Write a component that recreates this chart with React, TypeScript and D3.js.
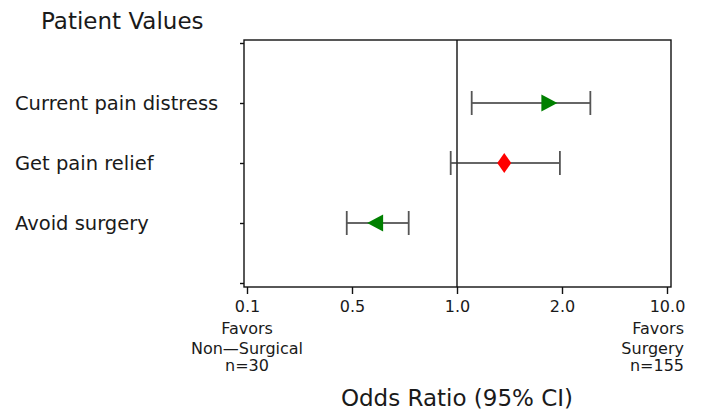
import { useEffect, useRef } from 'react'
import * as d3 from 'd3'

const categories = ['Current pain distress', 'Get pain relief', 'Avoid surgery']
const estimates = [1.88, 1.45, 0.61]
const lowerCI = [1.14, 0.97, 0.48]
const upperCI = [4.16, 1.98, 0.77]
const markerShape = ['right', 'diamond', 'left']
const markerColor = ['#008000', '#ff0000', '#008000']

const xTicks = [0.1, 0.5, 1.0, 2.0, 10.0]
const leftNote = ['Favors', 'Non\u2014Surgical', 'n=30']
const rightNote = ['Favors', 'Surgery', 'n=155']

const width = 701
const height = 413
const font = '"DejaVu Sans", sans-serif'
const ink = '#1a1a1a'

export default function App() {
  const svgRef = useRef<SVGSVGElement | null>(null)

  useEffect(() => {
    const box = { left: 244, right: 671, top: 40, bottom: 287 }
    const tickStart = 247
    const tickEnd = 667

    const svg = d3.select(svgRef.current)
    svg.selectAll('*').remove()
    svg.attr('viewBox', `0 0 ${width} ${height}`)

    // ================= SCALES =================
    // the axis puts its ticks at equal steps, so map each tick value to an even slot
    const slot = (tickEnd - tickStart) / (xTicks.length - 1)
    const x = d3
      .scaleLinear()
      .domain(xTicks)
      .range(xTicks.map((_, i) => tickStart + i * slot))

    const y = d3.scaleLinear().domain([0, 4]).range([43, 283])

    // ================= TITLE =================
    svg
      .append('text')
      .attr('x', 41)
      .attr('y', 29)
      .attr('font-family', font)
      .attr('font-size', 23)
      .attr('fill', ink)
      .text('Patient Values')

    // ================= FRAME =================
    svg
      .append('rect')
      .attr('x', box.left)
      .attr('y', box.top)
      .attr('width', box.right - box.left)
      .attr('height', box.bottom - box.top)
      .attr('fill', 'none')
      .attr('stroke', '#111')
      .attr('stroke-width', 1.4)

    // ================= AXES =================
    const xAxis = svg
      .append('g')
      .attr('transform', `translate(0,${box.bottom})`)
      .call(
        d3
          .axisBottom(x)
          .tickValues(xTicks)
          .tickSize(7)
          .tickPadding(6.5)
          .tickFormat(d3.format('.1f')),
      )
    xAxis.select('.domain').remove()
    xAxis.selectAll('line').attr('stroke', '#111').attr('stroke-width', 1.4)
    xAxis
      .selectAll('text')
      .attr('font-family', font)
      .attr('font-size', 16)
      .attr('fill', ink)

    const yAxis = svg
      .append('g')
      .attr('transform', `translate(${box.left},0)`)
      .call(
        d3
          .axisLeft(y)
          .tickValues([0, 1, 2, 3, 4])
          .tickSize(4)
          .tickFormat(() => ''),
      )
    yAxis.select('.domain').remove()
    yAxis.selectAll('line').attr('stroke', '#111').attr('stroke-width', 1.4)

    svg
      .append('g')
      .selectAll('text')
      .data(categories)
      .join('text')
      .attr('x', 15)
      .attr('y', (_, i) => y(i + 1) + 7)
      .attr('font-family', font)
      .attr('font-size', 19.5)
      .attr('fill', ink)
      .text((d) => d)

    // ================= NOTES =================
    const noteY = [334, 353.5, 371]
    svg
      .append('g')
      .selectAll('text')
      .data(leftNote)
      .join('text')
      .attr('x', x(0.1))
      .attr('y', (_, i) => noteY[i])
      .attr('text-anchor', 'middle')
      .attr('font-family', font)
      .attr('font-size', 16)
      .attr('fill', ink)
      .text((d) => d)

    svg
      .append('g')
      .selectAll('text')
      .data(rightNote)
      .join('text')
      .attr('x', 684)
      .attr('y', (_, i) => noteY[i])
      .attr('text-anchor', 'end')
      .attr('font-family', font)
      .attr('font-size', 16)
      .attr('fill', ink)
      .text((d) => d)

    svg
      .append('text')
      .attr('x', x(1))
      .attr('y', 406)
      .attr('text-anchor', 'middle')
      .attr('font-family', font)
      .attr('font-size', 23)
      .attr('fill', ink)
      .text('Odds Ratio (95% CI)')

    // ================= REFERENCE LINE =================
    svg
      .append('line')
      .attr('x1', x(1))
      .attr('x2', x(1))
      .attr('y1', box.top)
      .attr('y2', box.bottom)
      .attr('stroke', '#111')
      .attr('stroke-width', 1.4)

    // ================= ERROR BARS =================
    const rows = categories.map((c, i) => ({
      name: c,
      est: estimates[i],
      lo: lowerCI[i],
      hi: upperCI[i],
      shape: markerShape[i],
      color: markerColor[i],
      yPos: y(i + 1),
    }))

    const bars = svg.append('g').attr('stroke', '#333').attr('stroke-width', 1.5)
    bars
      .selectAll('.ci')
      .data(rows)
      .join('line')
      .attr('class', 'ci')
      .attr('x1', (d) => x(d.lo))
      .attr('x2', (d) => x(d.hi))
      .attr('y1', (d) => d.yPos)
      .attr('y2', (d) => d.yPos)
    bars
      .selectAll('.cap-lo')
      .data(rows)
      .join('line')
      .attr('class', 'cap-lo')
      .attr('stroke', '#555')
      .attr('stroke-width', 1.8)
      .attr('x1', (d) => x(d.lo))
      .attr('x2', (d) => x(d.lo))
      .attr('y1', (d) => d.yPos - 12)
      .attr('y2', (d) => d.yPos + 12)
    bars
      .selectAll('.cap-hi')
      .data(rows)
      .join('line')
      .attr('class', 'cap-hi')
      .attr('stroke', '#555')
      .attr('stroke-width', 1.8)
      .attr('x1', (d) => x(d.hi))
      .attr('x2', (d) => x(d.hi))
      .attr('y1', (d) => d.yPos - 12)
      .attr('y2', (d) => d.yPos + 12)

    // ================= MARKERS =================
    const markerPath = (shape: string) => {
      if (shape === 'diamond') return 'M0,-10L7,0L0,10L-7,0Z'
      if (shape === 'left') return 'M-8,0L8,-8.5L8,8.5Z'
      return 'M8,0L-8,-8.5L-8,8.5Z'
    }
    svg
      .append('g')
      .selectAll('path')
      .data(rows)
      .join('path')
      .attr('transform', (d) => `translate(${x(d.est)},${d.yPos})`)
      .attr('d', (d) => markerPath(d.shape))
      .attr('fill', (d) => d.color)
  }, [])

  return (
    <svg
      ref={svgRef}
      width={width}
      height={height}
      style={{ display: 'block', position: 'absolute', left: 0, top: 0 }}
    />
  )
}
